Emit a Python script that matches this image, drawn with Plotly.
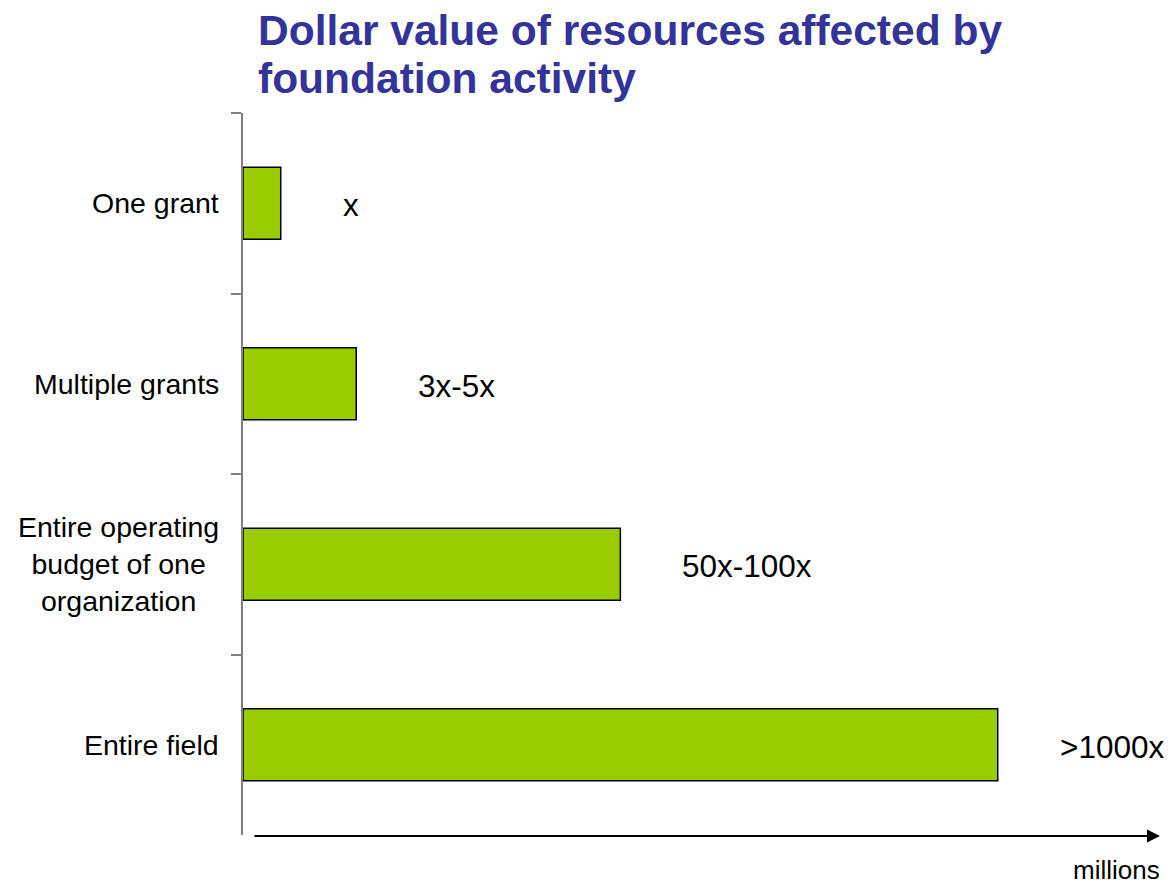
import plotly.graph_objects as go

# Illustrative relative sizes (arbitrary units)
categories = [
    "One grant",
    "Multiple grants",
    "Entire operating<br>budget of one<br>organization",
    "Entire field",
]
values = [5, 15, 50, 100]
value_labels = ["x", "3x-5x", "50x-100x", ">1000x"]
title_lines = ["Dollar value of resources affected by", "foundation activity"]

FONT = "Liberation Sans, Arial, sans-serif"
BAR_GREEN = "#99CC00"
TITLE_BLUE = "#333399"

fig = go.Figure()

fig.add_trace(
    go.Bar(
        x=values,
        y=categories,
        orientation="h",
        marker=dict(color=BAR_GREEN, line=dict(color="black", width=1.5)),
        hoverinfo="skip",
        showlegend=False,
    )
)

# value labels to the right of each bar
for cat, val, lab in zip(categories, values, value_labels):
    fig.add_annotation(
        x=val, y=cat, xref="x", yref="y",
        text=lab, showarrow=False,
        xanchor="left", yanchor="middle", xshift=60, yshift=-2,
        font=dict(family=FONT, size=31.5, color="black"),
    )

# category labels (centred multi-line)
for cat in categories:
    fig.add_annotation(
        x=0, y=cat, xref="paper", yref="y",
        text=cat, showarrow=False, align="center",
        xanchor="right", yanchor="middle", xshift=-22,
        font=dict(family=FONT, size=28.5, color="black"),
    )

# two-line title, tighter line spacing than plotly's title allows
for line, shift in zip(title_lines, [83, 35]):
    fig.add_annotation(
        x=0, y=1, xref="paper", yref="paper",
        text=f"<b>{line}</b>", showarrow=False,
        xanchor="left", yanchor="middle", xshift=13, yshift=shift,
        font=dict(family=FONT, size=42.5, color=TITLE_BLUE),
    )

# x axis drawn as an arrow
fig.add_annotation(
    x=1, y=0, xref="paper", yref="paper",
    ax=-907, ay=0, axref="pixel", ayref="pixel",
    text="", showarrow=True,
    arrowhead=2, arrowsize=1.3, arrowwidth=2, arrowcolor="black",
    yshift=-1,
)
fig.add_annotation(
    x=1, y=0, xref="paper", yref="paper",
    text="millions", showarrow=False,
    xanchor="right", yanchor="bottom", yshift=-52, xshift=2,
    font=dict(family=FONT, size=26, color="black"),
)

# page body has an 8px margin, so margins are shifted accordingly
fig.update_layout(
    width=1176,
    height=890,
    margin=dict(l=235, r=24, t=105, b=63),
    plot_bgcolor="white",
    paper_bgcolor="white",
    bargap=0.6,
    xaxis=dict(
        range=[0, 121.5],
        visible=False,
        showgrid=False,
        zeroline=False,
    ),
    yaxis=dict(
        categoryorder="array",
        categoryarray=categories,
        autorange="reversed",
        showticklabels=False,
        showline=True,
        linecolor="#808080",
        linewidth=1.5,
        ticks="outside",
        tickson="boundaries",
        ticklen=10,
        tickcolor="#808080",
        tickwidth=1.5,
        showgrid=False,
        zeroline=False,
    ),
)

fig.write_html("out.html")
